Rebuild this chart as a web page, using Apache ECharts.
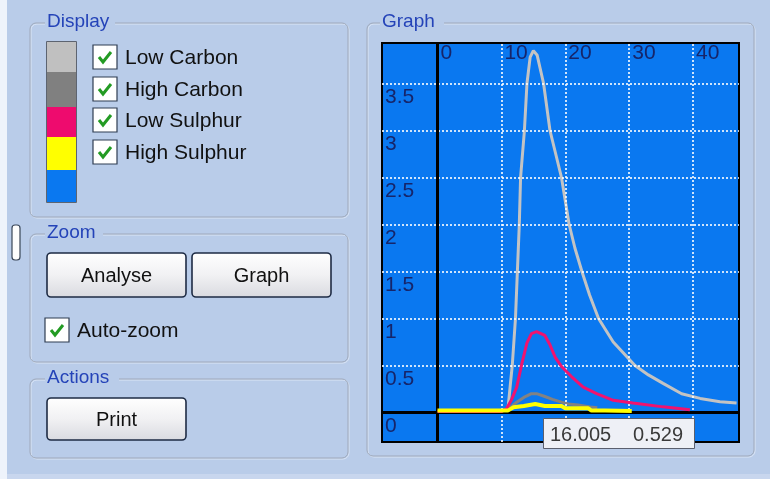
<!DOCTYPE html>
<html><head><meta charset="utf-8">
<script src="https://cdn.jsdelivr.net/npm/echarts@6/dist/echarts.min.js"></script>
<style>html,body{margin:0;padding:0;background:#b9cce9;}#c{width:770px;height:479px;}</style>
</head><body><div id="c"></div>
<script>
// ---- data ----
const seriesNames = ['Low Carbon', 'High Carbon', 'Low Sulphur', 'High Sulphur'];
const seriesColors = ['#c3c3c3', '#828282', '#f0136f', '#ffff00'];

const lowCarbonX = [0, 5, 10, 11.0, 11.4, 11.7, 12.2, 12.5, 12.8, 13.0, 13.6, 14.0, 14.5, 15.0, 15.6, 16.6, 17.6, 18.5, 19.4, 20.6, 21.5, 22.6, 23.8, 25.2, 27.5, 30.9, 33.0, 35.3, 38.2, 41.1, 44.2, 46.8];
const lowCarbonY = [0.01, 0.01, 0.01, 0.02, 0.3, 0.5, 1.0, 1.5, 2.0, 2.5, 3.0, 3.5, 3.78, 3.85, 3.8, 3.5, 3.0, 2.75, 2.5, 2.0, 1.75, 1.5, 1.25, 1.0, 0.75, 0.5, 0.4, 0.31, 0.2, 0.15, 0.115, 0.1];

const highCarbonX = [0, 10, 10.6, 11.5, 12.4, 13.5, 14.7, 15.5, 16.8, 18.0, 19.4, 20.5, 22.0, 23.9, 25.0];
const highCarbonY = [0.01, 0.01, 0.03, 0.06, 0.11, 0.16, 0.2, 0.2, 0.17, 0.14, 0.11, 0.09, 0.08, 0.06, 0.05];

const lowSulphurX = [0, 10, 10.8, 11.6, 12.4, 13.2, 14.0, 14.7, 15.5, 16.8, 17.6, 18.4, 19.4, 21.0, 22.8, 24.9, 27.5, 30.6, 35.3, 39.5];
const lowSulphurY = [0.01, 0.01, 0.04, 0.14, 0.27, 0.52, 0.74, 0.84, 0.86, 0.82, 0.72, 0.59, 0.49, 0.38, 0.27, 0.2, 0.13, 0.1, 0.06, 0.03];

const highSulphurX = [0, 11.0, 11.9, 13.5, 15.3, 16.8, 19.4, 20.0, 23.6, 24.1, 26.2, 26.4, 30.4];
const highSulphurY = [0.02, 0.02, 0.055, 0.07, 0.09, 0.07, 0.07, 0.045, 0.045, 0.02, 0.02, 0.015, 0.015];

const xTicks = [0, 10, 20, 30, 40];
const yTicks = [0, 0.5, 1, 1.5, 2, 2.5, 3, 3.5];
const cursorReadout = ['16.005', '0.529'];

const panelTitles = ['Display', 'Zoom', 'Actions', 'Graph'];
const buttonLabels = ['Analyse', 'Graph', 'Print'];
const autoZoomLabel = 'Auto-zoom';

// ---- build ----
const FONT = '"Liberation Sans", Arial, sans-serif';
const BG = '#b9cce9';
const PLOT = '#0a78f0';
const TITLE_C = '#2443b8';

function zip(xs, ys) { return xs.map((x, i) => [x, ys[i]]); }
const allX = [lowCarbonX, highCarbonX, lowSulphurX, highSulphurX];
const allY = [lowCarbonY, highCarbonY, lowSulphurY, highSulphurY];

const ui = [];
// left light strip & bottom strip
ui.push({ type: 'rect', shape: { x: 0, y: 0, width: 7, height: 479 }, style: { fill: '#eef3fb' }, z: 1 });
ui.push({ type: 'rect', shape: { x: 7, y: 474, width: 763, height: 5 }, style: { fill: '#c8d6ee' }, z: 1 });

function groupBox(x, y, w, h, title, tx, tw) {
  ui.push({ type: 'rect', shape: { x: x + 1, y: y + 1, width: w, height: h, r: 6 }, style: { fill: 'none', stroke: '#dbe5f5', lineWidth: 1 }, z: 2 });
  ui.push({ type: 'rect', shape: { x: x, y: y, width: w, height: h, r: 6 }, style: { fill: 'none', stroke: '#9fa9ba', lineWidth: 1 }, z: 2 });
  ui.push({ type: 'rect', shape: { x: tx - 2, y: y - 4, width: tw + 4, height: 8 }, style: { fill: BG }, z: 3 });
  ui.push({ type: 'text', x: tx, y: y - 1, style: { text: title, fill: TITLE_C, font: '19px ' + FONT, textVerticalAlign: 'middle' }, z: 4 });
}
groupBox(30, 23, 318, 194, panelTitles[0], 47, 66);
groupBox(30, 234, 318, 128, panelTitles[1], 47, 54);
groupBox(30, 379, 318, 79, panelTitles[2], 47, 70);
groupBox(367, 23, 387, 433, panelTitles[3], 382, 60);

// colour swatches
const swatchCols = ['#c0c0c0', '#808080', '#ee0b6e', '#ffff00', PLOT];
const swatchY = [42, 72, 107, 137, 170, 202];
swatchCols.forEach((c, i) => {
  ui.push({ type: 'rect', shape: { x: 47, y: swatchY[i], width: 29, height: swatchY[i + 1] - swatchY[i] }, style: { fill: c }, z: 5 });
});
ui.push({ type: 'rect', shape: { x: 46.5, y: 41.5, width: 30, height: 161 }, style: { fill: 'none', stroke: '#5d6470', lineWidth: 1 }, z: 6 });

function checkbox(x, y, label, lx, ly) {
  ui.push({ type: 'rect', shape: { x: x, y: y, width: 24, height: 24 }, style: { fill: '#ffffff', stroke: '#2f3d52', lineWidth: 1.2 }, z: 5 });
  ui.push({ type: 'polyline', shape: { points: [[x + 6, y + 12], [x + 10, y + 17], [x + 18, y + 7]] }, style: { stroke: '#239b23', lineWidth: 3, fill: 'none' }, z: 6 });
  ui.push({ type: 'text', x: lx, y: ly, style: { text: label, fill: '#111', font: '21px ' + FONT, textVerticalAlign: 'middle' }, z: 6 });
}
const cbY = [45, 77, 108, 140];
seriesNames.forEach((n, i) => checkbox(93, cbY[i], n, 125, cbY[i] + 13));
checkbox(45, 318, autoZoomLabel, 77, 331);

function button(x, y, w, h, label) {
  ui.push({ type: 'rect', shape: { x: x, y: y, width: w, height: h, r: 4 },
    style: { fill: new echarts.graphic.LinearGradient(0, 0, 0, 1, [{ offset: 0, color: '#ffffff' }, { offset: 0.5, color: '#f1f1f3' }, { offset: 1, color: '#d9dae0' }]), stroke: '#1e2b44', lineWidth: 1.6 }, z: 5 });
  ui.push({ type: 'text', x: x + w / 2, y: y + h / 2 + 1, style: { text: label, fill: '#111', font: '20px ' + FONT, textAlign: 'center', textVerticalAlign: 'middle' }, z: 6 });
}
button(47, 253, 139, 44, buttonLabels[0]);
button(192, 253, 139, 44, buttonLabels[1]);
button(47, 398, 139, 42, buttonLabels[2]);

// little splitter handle
ui.push({ type: 'rect', shape: { x: 12, y: 225, width: 8, height: 35, r: 3 }, style: { fill: '#fdfdfd', stroke: '#3a4658', lineWidth: 1.2 }, z: 5 });

// cursor readout box
ui.push({ type: 'rect', shape: { x: 543.5, y: 418.5, width: 151, height: 30 }, style: { fill: '#eef0f6', stroke: '#5a5f6e', lineWidth: 1 }, z: 100 });
ui.push({ type: 'text', x: 550, y: 435, style: { text: cursorReadout[0], fill: '#3a3a3a', font: '20px ' + FONT, textVerticalAlign: 'middle' }, z: 101 });
ui.push({ type: 'text', x: 633, y: 435, style: { text: cursorReadout[1], fill: '#3a3a3a', font: '20px ' + FONT, textVerticalAlign: 'middle' }, z: 101 });

const labelColor = '#16256a';
const option = {
  animation: false,
  backgroundColor: BG,
  grid: { left: 382, top: 43, width: 357, height: 399, show: true, backgroundColor: PLOT, borderColor: '#000', borderWidth: 2, z: 0 },
  xAxis: {
    type: 'value', min: -8.685, max: 47.18, position: 'top',
    axisLine: { show: false }, axisTick: { show: false }, splitLine: { show: false },
    axisLabel: { inside: true, customValues: xTicks, align: 'left', verticalAlign: 'top', margin: 0, padding: [0, 0, 0, 3], color: labelColor, fontSize: 21, fontFamily: FONT, showMinLabel: true, showMaxLabel: true }
  },
  yAxis: {
    type: 'value', min: -0.3138, max: 3.931,
    axisLine: { show: false }, axisTick: { show: false }, splitLine: { show: false },
    axisLabel: { inside: true, customValues: yTicks, align: 'left', verticalAlign: 'top', margin: 3, padding: [3, 0, 0, 0], color: labelColor, fontSize: 21, fontFamily: FONT, showMinLabel: true, showMaxLabel: true }
  },
  graphic: ui,
  series: [
    {
      type: 'line', name: 'grid', data: [], z: 1, silent: true,
      markLine: {
        silent: true, symbol: ['none', 'none'], label: { show: false }, animation: false,
        lineStyle: { color: '#ffffff', width: 1.6, type: [2, 2] },
        data: xTicks.filter(v => v !== 0).map(v => ({ xAxis: v })).concat(yTicks.filter(v => v !== 0).map(v => ({ yAxis: v })))
      }
    },
    {
      type: 'line', name: 'zero', data: [], z: 2, silent: true,
      markLine: {
        silent: true, symbol: ['none', 'none'], label: { show: false }, animation: false,
        lineStyle: { color: '#000000', width: 3, type: 'solid' },
        data: [{ xAxis: 0 }, { yAxis: 0 }]
      }
    }
  ].concat(seriesNames.map((n, i) => ({
    type: 'line', name: n, data: zip(allX[i], allY[i]), showSymbol: false, z: 3 + i,
    lineStyle: { color: seriesColors[i], width: i === 3 ? 4 : 3 }, itemStyle: { color: seriesColors[i] }
  })))
};
const chart = echarts.init(document.getElementById('c'), null, { renderer: 'canvas' });
chart.setOption(option);
</script></body></html>
